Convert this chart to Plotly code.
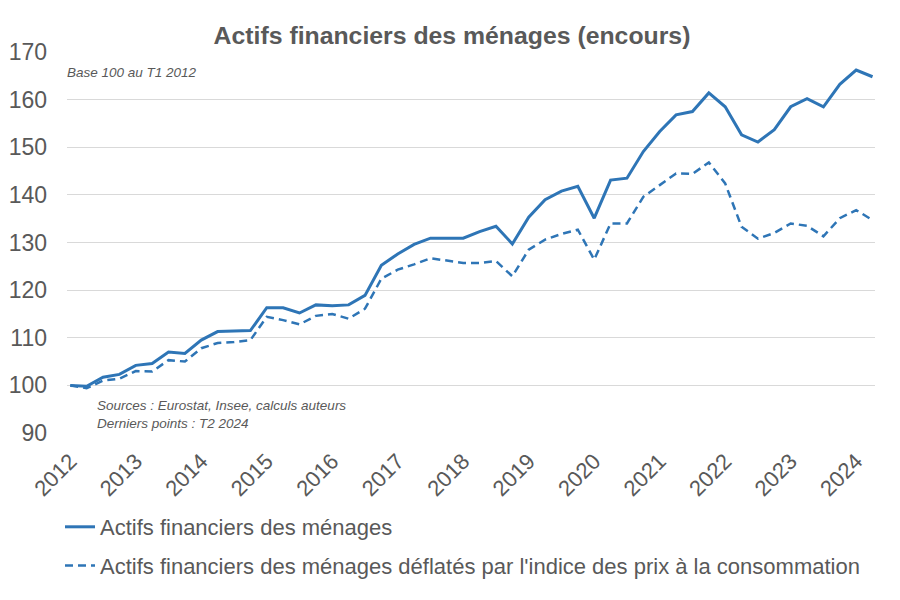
import plotly.graph_objects as go

# quarterly series, base 100 at T1 2012, last point T2 2024
years = list(range(2012, 2025))
quarters = [f"T{q} {y}" for y in years for q in range(1, 5)][:50]

actifs = [100.0, 99.8, 101.7, 102.3, 104.2, 104.6, 107.0, 106.7, 109.5, 111.3,
          111.4, 111.5, 116.3, 116.3, 115.2, 116.9, 116.7, 116.9, 118.9, 125.2,
          127.6, 129.6, 130.9, 130.9, 130.9, 132.3, 133.4, 129.7, 135.3, 139.0,
          140.8, 141.8, 135.1, 143.1, 143.5, 149.1, 153.3, 156.8, 157.5, 161.4,
          158.5, 152.6, 151.1, 153.7, 158.5, 160.2, 158.5, 163.2, 166.2, 164.8]

actifs_defl = [100.0, 99.4, 101.0, 101.4, 103.0, 102.9, 105.3, 105.0, 107.8, 108.9,
               109.1, 109.5, 114.4, 113.7, 112.8, 114.6, 115.0, 114.0, 116.1, 122.4,
               124.3, 125.4, 126.7, 126.2, 125.7, 125.7, 126.1, 122.9, 128.5, 130.6,
               131.8, 132.7, 126.4, 134.0, 134.0, 139.6, 142.1, 144.5, 144.4, 146.8,
               142.4, 133.3, 130.8, 132.0, 134.0, 133.5, 131.3, 135.1, 136.8, 134.7]

tick_vals = [f"T1 {y}" for y in years]
tick_text = [str(y) for y in years]

FONT = "Arial, Liberation Sans, sans-serif"
GREY = "#595959"
BLUE = "#2E75B6"

fig = go.Figure()

fig.add_trace(go.Scatter(
    x=quarters, y=actifs, mode="lines",
    line=dict(color=BLUE, width=3),
    name="Actifs financiers des ménages", legendgroup="a"))

fig.add_trace(go.Scatter(
    x=quarters, y=actifs_defl, mode="lines",
    line=dict(color=BLUE, width=2.5, dash="8px,5px"),
    name="Actifs financiers des ménages déflatés par l'indice des prix à la consommation",
    legendgroup="b"))

# plot area: 808 x 381 px
fig.update_layout(
    width=900, height=600,
    margin=dict(l=59, r=33, t=44, b=175, autoexpand=False),
    paper_bgcolor="white", plot_bgcolor="white",
    font=dict(family=FONT, color=GREY),
    title=dict(text="<b>Actifs financiers des ménages (encours)</b>",
               x=444 / 900, xref="container", xanchor="center",
               y=1 - 27 / 600, yref="container", yanchor="middle",
               font=dict(size=24.8, color=GREY)),
    legend=dict(x=-7 / 808, xanchor="left",
                y=-73 / 381, yanchor="top",
                font=dict(size=22, color=GREY),
                tracegroupgap=7, itemwidth=30,
                bgcolor="rgba(0,0,0,0)"),
    showlegend=True,
)

fig.update_xaxes(
    type="category", categoryorder="array", categoryarray=quarters,
    range=[-0.2, 49.15],
    tickmode="array", tickvals=tick_vals, ticktext=tick_text,
    tickangle=-45, tickfont=dict(size=22, color=GREY),
    showgrid=False, zeroline=False, showline=False, ticks="",
    ticklabelstandoff=10,
)

fig.update_yaxes(
    range=[90, 170], dtick=10,
    showgrid=True, gridcolor="#D9D9D9", gridwidth=1.2,
    zeroline=False, showline=False, ticks="",
    tickfont=dict(size=23, color=GREY),
    ticklabelstandoff=19,
)

fig.add_annotation(text="<i>Base 100 au T1 2012</i>", xref="paper", yref="paper",
                   x=-2 / 808, y=1 - 20 / 381, xanchor="left", yanchor="middle",
                   showarrow=False, font=dict(size=13.5, color=GREY))

fig.add_annotation(text="<i>Sources : Eurostat, Insee, calculs auteurs<br>Derniers points : T2 2024</i>",
                   xref="paper", yref="paper",
                   x=28 / 808, y=(433 - 414) / 381, xanchor="left", yanchor="middle",
                   align="left", showarrow=False, font=dict(size=13.5, color=GREY))

fig.write_html("out.html")
